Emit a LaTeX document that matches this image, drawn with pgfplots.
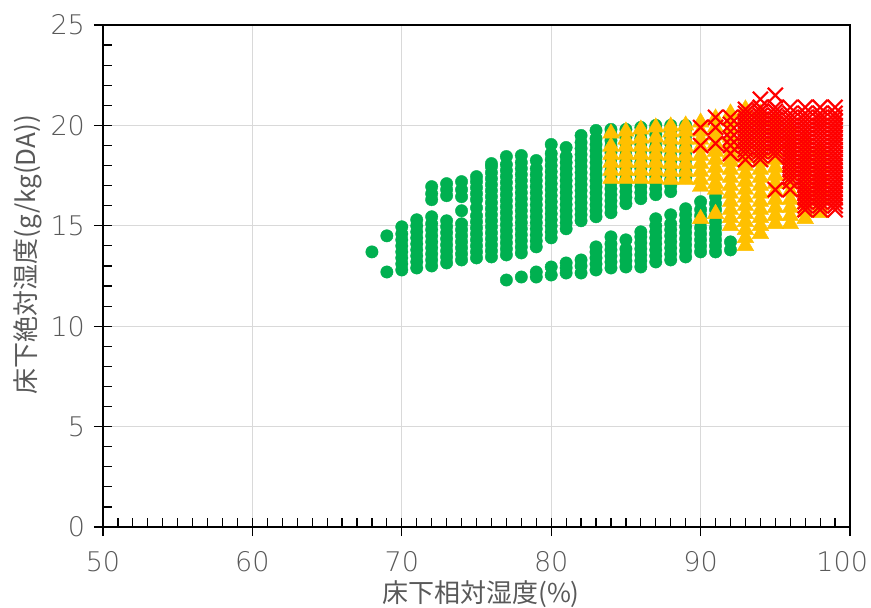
\documentclass[border=0pt]{standalone}
\usepackage{pgfplots}
\pgfplotsset{compat=1.18}
\usepackage{fontspec}
\setmainfont{Noto Sans CJK JP}
\newfontfamily\tickfont{DejaVu Sans ExtraLight}
\definecolor{gGreen}{HTML}{00B050}
\definecolor{gOrange}{HTML}{FFC000}
\definecolor{gRed}{HTML}{FF0000}
\definecolor{txtgray}{HTML}{595959}
\definecolor{gridgray}{HTML}{D9D9D9}
\begin{document}
\begin{tikzpicture}
\useasboundingbox (-51.5pt,-40pt) rectangle (384pt,263.5pt);
\begin{axis}[
  scale only axis,
  width=373.5pt, height=251pt,
  xmin=50, xmax=100, ymin=0, ymax=25,
  xtick={50,60,...,100}, ytick={0,5,...,25},
  xticklabels={50,60,70,80,90,{\makebox[18pt][r]{100}}},
  minor x tick num=9, minor y tick num=4,
  tick pos=left,
  tick align=center,
  major tick length=9pt,
  minor tick length=4.5pt,
  minor x tick style={yshift=2.25pt},
  minor y tick style={xshift=2.25pt},
  tick style={black, line width=0.6pt},
  grid=major,
  major grid style={gridgray, line width=0.6pt},
  axis line style={black, line width=0.6pt},
  /pgf/number format/assume math mode=true,
  ticklabel style={font=\tickfont\fontsize{13.5}{15}\selectfont, text=txtgray},
  xticklabel style={yshift=-4pt},
  yticklabel style={xshift=-1pt},
  xlabel={床下相対湿度(\%)},
  ylabel={床下絶対湿度(g/kg(DA))},
  every axis x label/.style={at={(axis description cs:0.506,-0.133)}, anchor=center, font=\fontsize{13}{15}\selectfont, text=txtgray},
  every axis y label/.style={at={(axis description cs:-0.101,0.542)}, anchor=center, rotate=90, font=\fontsize{13}{15}\selectfont, text=txtgray},
  clip=false,
]
% green upper band
\addplot[only marks, mark=*, mark size=3.1pt, color=gGreen, mark options={fill=gGreen, line width=0.2pt}] coordinates {
(68,13.7) (69,12.7) (69,14.5)
(70,12.8) (70,13.1) (70,13.4) (70,13.7) (70,14.0) (70,14.3) (70,14.6) (70,14.95)
(71,12.9) (71,13.2) (71,13.5) (71,13.8) (71,14.1) (71,14.4) (71,14.7) (71,15.0) (71,15.3)
(72,13.0) (72,13.3) (72,13.6) (72,13.9) (72,14.2) (72,14.5) (72,14.8) (72,15.1) (72,15.45) (72,16.3) (72,16.6) (72,16.95)
(73,13.15) (73,13.45) (73,13.75) (73,14.05) (73,14.35) (73,14.65) (73,14.95) (73,15.25) (73,16.5) (73,16.8) (73,17.1)
(74,13.3) (74,13.6) (74,13.9) (74,14.2) (74,14.5) (74,14.8) (74,15.1) (74,15.75) (74,16.45) (74,16.8) (74,17.2)
(75,13.4) (75,13.7) (75,14.0) (75,14.3) (75,14.6) (75,14.9) (75,15.2) (75,15.5) (75,15.9) (75,16.3) (75,16.6) (75,16.9) (75,17.2) (75,17.45)
(76,13.45) (76,13.75) (76,14.05) (76,14.35) (76,14.65) (76,14.95) (76,15.25) (76,15.55) (76,15.85) (76,16.15) (76,16.45) (76,16.75) (76,17.05) (76,17.35) (76,17.65) (76,17.95) (76,18.1)
(77,13.55) (77,13.85) (77,14.15) (77,14.45) (77,14.75) (77,15.05) (77,15.35) (77,15.65) (77,15.95) (77,16.25) (77,16.55) (77,16.85) (77,17.15) (77,17.45) (77,17.75) (77,18.05) (77,18.45)
(78,13.65) (78,13.95) (78,14.25) (78,14.55) (78,14.85) (78,15.15) (78,15.45) (78,15.75) (78,16.05) (78,16.35) (78,16.65) (78,16.95) (78,17.25) (78,17.55) (78,17.85) (78,18.15) (78,18.5)
(79,13.95) (79,14.25) (79,14.55) (79,14.85) (79,15.15) (79,15.45) (79,15.75) (79,16.05) (79,16.35) (79,16.65) (79,16.95) (79,17.25) (79,17.55) (79,17.85) (79,18.25)
(80,14.4) (80,14.7) (80,15.0) (80,15.3) (80,15.6) (80,15.9) (80,16.2) (80,16.5) (80,16.8) (80,17.1) (80,17.4) (80,17.7) (80,18.0) (80,18.3) (80,18.6) (80,19.05)
(81,14.85) (81,15.15) (81,15.45) (81,15.75) (81,16.05) (81,16.35) (81,16.65) (81,16.95) (81,17.25) (81,17.55) (81,17.85) (81,18.15) (81,18.45) (81,18.9)
(82,15.25) (82,15.55) (82,15.85) (82,16.15) (82,16.45) (82,16.75) (82,17.05) (82,17.35) (82,17.65) (82,17.95) (82,18.25) (82,18.55) (82,18.85) (82,19.15) (82,19.5)
(83,15.45) (83,15.75) (83,16.05) (83,16.35) (83,16.65) (83,16.95) (83,17.25) (83,17.55) (83,17.85) (83,18.15) (83,18.45) (83,18.75) (83,19.05) (83,19.35) (83,19.75)
(84,15.65) (84,15.95) (84,16.25) (84,16.55) (84,16.85) (84,17.15) (84,17.45) (84,17.75) (84,18.05) (84,18.35) (84,18.65) (84,18.95) (84,19.25) (84,19.55) (84,19.8)
(85,16.1) (85,16.4) (85,16.7) (85,17.0) (85,17.3) (85,17.6) (85,17.9) (85,18.2) (85,18.5) (85,18.8) (85,19.1) (85,19.4) (85,19.8)
(86,16.35) (86,16.65) (86,16.95) (86,17.25) (86,17.55) (86,17.85) (86,18.15) (86,18.45) (86,18.75) (86,19.05) (86,19.35) (86,19.65) (86,19.9)
(87,16.55) (87,16.85) (87,17.15) (87,17.45) (87,17.75) (87,18.05) (87,18.35) (87,18.65) (87,18.95) (87,19.25) (87,19.55) (87,19.85) (87,20.0)
(88,16.7) (88,17.0) (88,17.3) (88,17.6) (88,17.9) (88,18.2) (88,18.5) (88,18.8) (88,19.1) (88,19.4) (88,19.7) (88,20.0)
(89,17.4) (89,17.7) (89,18.0) (89,18.3) (89,18.6) (89,18.9) (89,19.2) (89,19.5) (89,19.8) (89,20.0)
};
% green lower band
\addplot[only marks, mark=*, mark size=3.1pt, color=gGreen, mark options={fill=gGreen, line width=0.2pt}] coordinates {
(77,12.3) (78,12.45) (79,12.45) (79,12.7) (80,12.55) (80,12.95)
(81,12.65) (81,12.9) (81,13.15) (82,12.65) (82,13.0) (82,13.3)
(83,12.8) (83,13.1) (83,13.4) (83,13.7) (83,13.95)
(84,12.9) (84,13.2) (84,13.5) (84,13.8) (84,14.1) (84,14.45)
(85,12.95) (85,13.25) (85,13.55) (85,13.85) (85,14.3)
(86,12.95) (86,13.25) (86,13.55) (86,13.85) (86,14.15) (86,14.45) (86,14.7)
(87,13.2) (87,13.5) (87,13.8) (87,14.1) (87,14.4) (87,14.7) (87,15.0) (87,15.35)
(88,13.3) (88,13.6) (88,13.9) (88,14.2) (88,14.5) (88,14.8) (88,15.1) (88,15.55)
(89,13.45) (89,13.75) (89,14.05) (89,14.35) (89,14.65) (89,14.95) (89,15.25) (89,15.55) (89,15.85)
(90,13.7) (90,14.0) (90,14.3) (90,14.6) (90,14.9) (90,15.2) (90,15.5) (90,15.8) (90,16.2)
(91,13.7) (91,14.0) (91,14.3) (91,14.6) (91,14.9) (91,15.2) (91,15.5) (91,15.8) (91,16.1) (91,16.45)
(92,13.8) (92,14.2)
};
% orange triangles
\addplot[only marks, mark=triangle*, mark size=4.8pt, color=gOrange, mark options={fill=gOrange, line width=0.2pt}] coordinates {
(84,17.35) (84,17.75) (84,18.15) (84,18.55) (84,18.95) (84,19.6)
(85,17.35) (85,17.75) (85,18.15) (85,18.55) (85,18.95) (85,19.3) (85,19.7)
(86,17.35) (86,17.75) (86,18.15) (86,18.55) (86,18.95) (86,19.35) (86,19.8)
(87,17.35) (87,17.75) (87,18.15) (87,18.55) (87,18.95) (87,19.4) (87,19.9)
(88,17.3) (88,17.7) (88,18.1) (88,18.5) (88,18.9) (88,19.3) (88,19.65) (88,19.95)
(89,17.3) (89,17.7) (89,18.1) (89,18.5) (89,18.9) (89,19.3) (89,19.7) (89,20.0)
(90,15.35) (90,16.95) (90,17.3) (90,17.7) (90,18.1) (90,18.5) (90,18.9) (90,19.3) (90,19.7) (90,20.15)
(91,15.6) (91,16.8) (91,17.1) (91,17.5) (91,17.9) (91,18.3) (91,18.7) (91,19.1) (91,19.5) (91,19.9) (91,20.35)
(92,15.0) (92,15.4) (92,15.8) (92,16.2) (92,16.6) (92,17.0) (92,17.4) (92,17.8) (92,18.2) (92,18.6) (92,19.0) (92,19.4) (92,19.8) (92,20.2) (92,20.6)
(93,14.0) (93,14.4) (93,14.8) (93,15.2) (93,15.6) (93,16.0) (93,16.4) (93,16.8) (93,17.2) (93,17.6) (93,18.0) (93,18.4) (93,18.8) (93,19.2) (93,19.6) (93,20.0) (93,20.4) (93,20.8)
(94,14.6) (94,15.0) (94,15.4) (94,15.8) (94,16.2) (94,16.6) (94,17.0) (94,17.4) (94,17.8) (94,18.2) (94,18.6) (94,19.0) (94,19.4) (94,19.8) (94,20.2) (94,20.6)
(95,15.1) (95,15.5) (95,15.9) (95,16.3) (95,16.7) (95,17.1) (95,17.5) (95,17.9) (95,18.3) (95,18.7) (95,19.1) (95,19.5) (95,19.9) (95,20.3)
(96,15.1) (96,15.5) (96,15.9) (96,16.3) (96,16.7) (96,17.1) (96,17.5) (96,17.9) (96,18.3) (96,18.7) (96,19.1) (96,19.5) (96,19.9)
(97,15.35) (97,15.7) (97,16.1) (97,16.5) (97,16.9) (97,17.3) (97,17.7) (97,18.1) (97,18.5) (97,18.9) (97,19.3)
(98,15.65) (98,16.0) (98,16.4) (98,16.8) (98,17.2) (98,17.6) (98,18.0) (98,18.4) (98,18.8)
};
% red crosses
\addplot[only marks, mark=x, mark size=5.3pt, color=gRed, mark options={line width=1.1pt}] coordinates {
(90,19.0) (90,19.9)
(91,19.1) (91,19.9) (91,20.4)
(92,18.6) (92,19.0) (92,19.35) (92,19.7) (92,20.05) (92,20.4)
(93,18.3) (93,18.6) (93,18.8) (93,19.0) (93,19.2) (93,19.4) (93,19.6) (93,19.8) (93,20.0) (93,20.2) (93,20.4) (93,20.6) (93,20.8)
(94,18.3) (94,18.5) (94,18.7) (94,18.9) (94,19.1) (94,19.3) (94,19.5) (94,19.7) (94,19.9) (94,20.1) (94,20.3) (94,20.5) (94,20.7) (94,20.9) (94,21.3)
(95,16.8) (95,18.5) (95,18.7) (95,18.9) (95,19.1) (95,19.3) (95,19.5) (95,19.7) (95,19.9) (95,20.1) (95,20.3) (95,20.5) (95,20.7) (95,20.9) (95,21.5)
(96,16.8) (96,17.2) (96,17.4) (96,17.6) (96,17.8) (96,18.0) (96,18.2) (96,18.4) (96,18.6) (96,18.8) (96,19.0) (96,19.2) (96,19.4) (96,19.6) (96,19.8) (96,20.0) (96,20.2) (96,20.4) (96,20.6) (96,20.9)
(97,15.8) (97,16.0) (97,16.2) (97,16.4) (97,16.6) (97,16.8) (97,17.0) (97,17.2) (97,17.4) (97,17.6) (97,17.8) (97,18.0) (97,18.2) (97,18.4) (97,18.6) (97,18.8) (97,19.0) (97,19.2) (97,19.4) (97,19.6) (97,19.8) (97,20.0) (97,20.2) (97,20.4) (97,20.6) (97,20.9)
(98,15.8) (98,16.0) (98,16.2) (98,16.4) (98,16.6) (98,16.8) (98,17.0) (98,17.2) (98,17.4) (98,17.6) (98,17.8) (98,18.0) (98,18.2) (98,18.4) (98,18.6) (98,18.8) (98,19.0) (98,19.2) (98,19.4) (98,19.6) (98,19.8) (98,20.0) (98,20.2) (98,20.4) (98,20.6) (98,20.9)
(99,15.8) (99,16.0) (99,16.2) (99,16.4) (99,16.6) (99,16.8) (99,17.0) (99,17.2) (99,17.4) (99,17.6) (99,17.8) (99,18.0) (99,18.2) (99,18.4) (99,18.6) (99,18.8) (99,19.0) (99,19.2) (99,19.4) (99,19.6) (99,19.8) (99,20.0) (99,20.2) (99,20.4) (99,20.6) (99,20.9)
};
\draw[black, line width=1.1pt] (rel axis cs:0,1) -- (rel axis cs:0,0) -- (rel axis cs:1,0);
\end{axis}
\end{tikzpicture}
\end{document}
